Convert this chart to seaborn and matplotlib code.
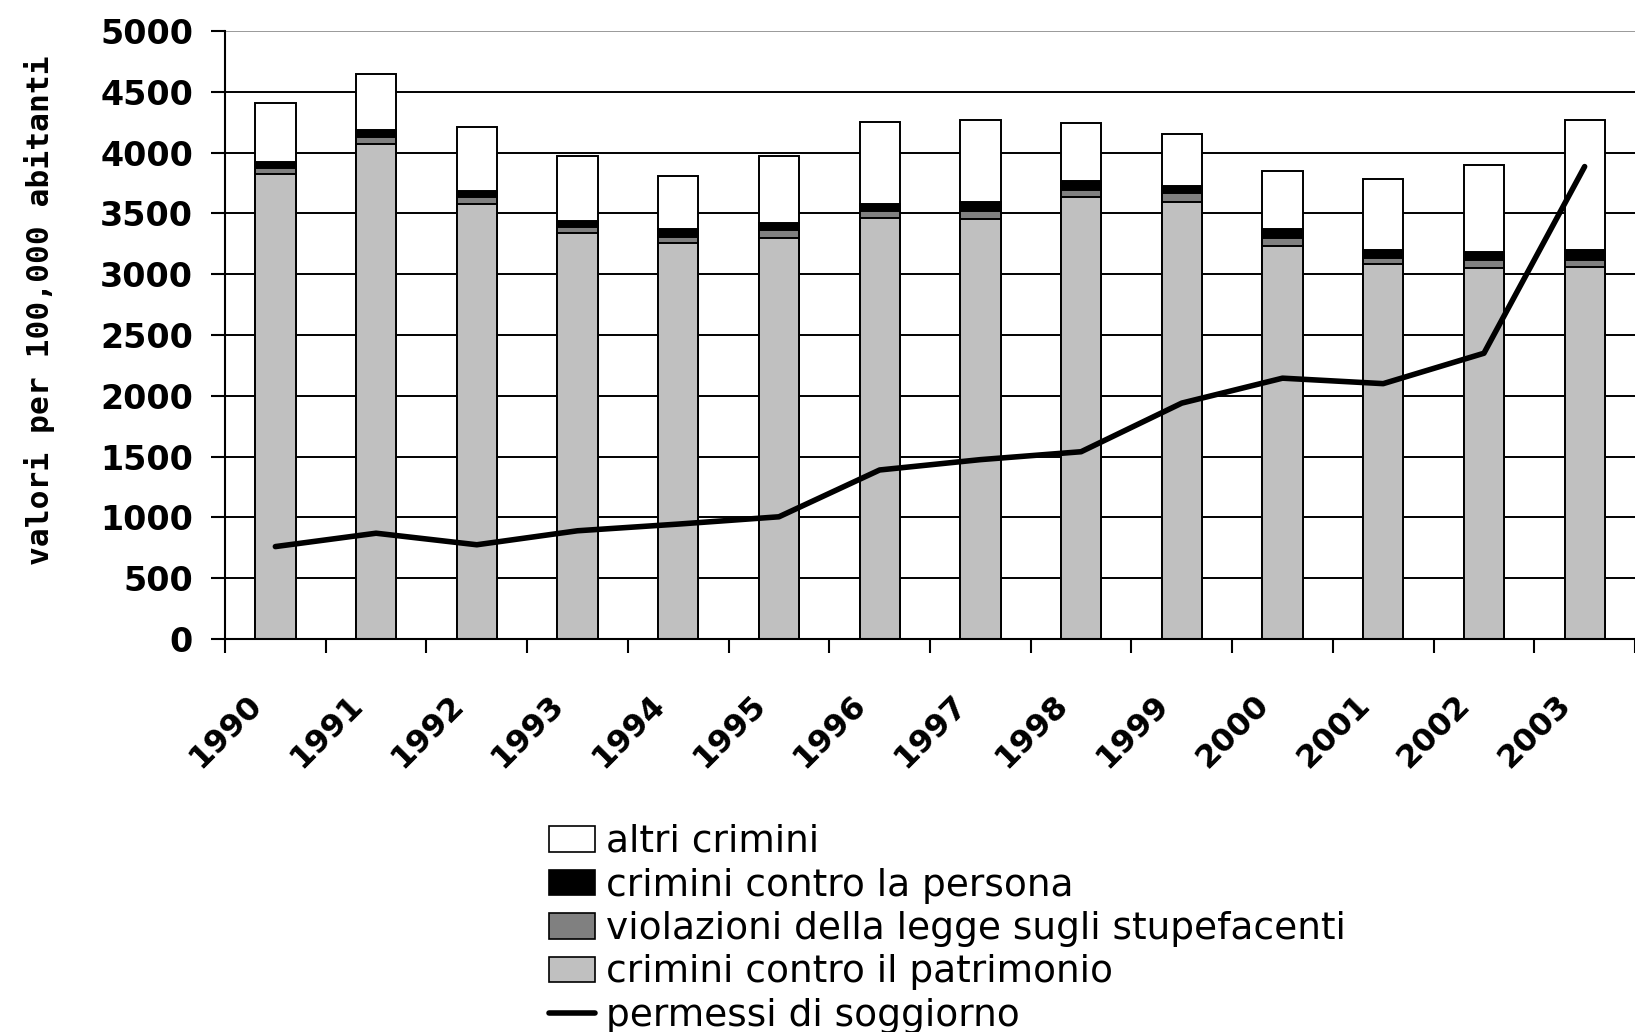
import numpy as np
import pandas as pd
import matplotlib
matplotlib.use("Agg")
import matplotlib.pyplot as plt
import matplotlib.transforms as mtransforms
from matplotlib.patches import Patch
from matplotlib.lines import Line2D
import seaborn as sns

# ---------------- data (values per 100,000 inhabitants) ----------------
years = [1990, 1991, 1992, 1993, 1994, 1995, 1996, 1997, 1998, 1999, 2000, 2001, 2002, 2003]
patrimonio = [3820, 4070, 3580, 3340, 3255, 3300, 3460, 3455, 3635, 3590, 3235, 3080, 3055, 3060]
stupefacenti = [50, 55, 55, 50, 55, 60, 60, 65, 60, 75, 65, 55, 65, 60]
persona = [50, 60, 50, 50, 60, 60, 55, 75, 75, 60, 70, 60, 60, 80]
altri = [490, 460, 525, 530, 440, 555, 675, 670, 475, 430, 480, 590, 720, 1070]
permessi = [760, 870, 775, 890, 945, 1005, 1390, 1475, 1540, 1940, 2145, 2100, 2350, 3885]
yticks = [0, 500, 1000, 1500, 2000, 2500, 3000, 3500, 4000, 4500, 5000]
legend_labels = ["altri crimini", "crimini contro la persona",
                 "violazioni della legge sugli stupefacenti",
                 "crimini contro il patrimonio", "permessi di soggiorno"]
ylabel = "valori per 100,000 abitanti"

sns.set_theme(style="white")
plt.rcParams['font.family'] = ['DejaVu Sans']
plt.rcParams['text.color'] = 'black'
plt.rcParams['xtick.color'] = 'black'
plt.rcParams['ytick.color'] = 'black'
plt.rcParams['axes.labelcolor'] = 'black'

df = pd.DataFrame({
    "anno": [str(y) for y in years],
    "patrimonio": patrimonio,
    "stupefacenti": stupefacenti,
    "persona": persona,
    "altri": altri,
})
df["lvl1"] = df["patrimonio"]
df["lvl2"] = df["lvl1"] + df["stupefacenti"]
df["lvl3"] = df["lvl2"] + df["persona"]
df["lvl4"] = df["lvl3"] + df["altri"]
order = [str(y) for y in years]

W, H = 1635, 1032
fig = plt.figure(figsize=(W / 100, H / 100), dpi=100)
ax = fig.add_axes([225 / W, 1 - 639 / H, (W - 225) / W, 608 / H])

colors = {"lvl4": "white", "lvl3": "black", "lvl2": "#808080", "lvl1": "#c0c0c0"}
for col in ["lvl4", "lvl3", "lvl2", "lvl1"]:
    sns.barplot(data=df, x="anno", y=col, order=order, color=colors[col],
                saturation=1, edgecolor="black", linewidth=1.4, width=0.4,
                errorbar=None, ax=ax, zorder=2)

pos = np.arange(len(years))
sns.lineplot(x=pos, y=permessi, color="black", linewidth=4, ax=ax, zorder=5)

px_per_cat = 101.3
ax.set_xlim(-0.5, -0.5 + (W - 225) / px_per_cat)
ax.set_ylim(0, 5000)
ax.set_xlabel("")
ax.set_ylabel("")

# y axis
ax.set_yticks(yticks)
ax.set_yticklabels([str(v) for v in yticks], fontsize=24, fontweight="bold",
                   color="black")
ax.tick_params(axis="y", which="major", length=10, width=1.5, direction="out",
               pad=13, color="black", left=True)
ax.yaxis.grid(True, color="black", linewidth=1.4)
ax.set_axisbelow(True)
gls = ax.yaxis.get_gridlines()
gls[-1].set_color("#9a9a9a")

# x axis
ax.set_xticks(pos)
ax.set_xticklabels(order, fontsize=23, fontweight="bold", rotation=45,
                   ha="right", va="top", rotation_mode="anchor", color="black")
ax.set_xticks(np.arange(-0.5, len(years), 1.0), minor=True)
ax.tick_params(axis="x", which="major", length=0, pad=36)
ax.tick_params(axis="x", which="minor", length=10, width=1.5, direction="out",
               color="black", bottom=True)
offset = mtransforms.ScaledTranslation(-29 / 100, 0, fig.dpi_scale_trans)
for lab in ax.get_xticklabels():
    lab.set_transform(lab.get_transform() + offset)

for s in ["top", "right"]:
    ax.spines[s].set_visible(False)
for s in ["left", "bottom"]:
    ax.spines[s].set_color("black")
    ax.spines[s].set_linewidth(1.5)

fig.text(40 / W, 1 - 310 / H, ylabel, rotation=90, ha="center", va="center",
         family="DejaVu Sans Mono", fontsize=22.5, fontweight="bold",
         color="black")

handles = [Patch(facecolor="white", edgecolor="black", linewidth=1.2),
           Patch(facecolor="black", edgecolor="black", linewidth=1.2),
           Patch(facecolor="#808080", edgecolor="black", linewidth=1.2),
           Patch(facecolor="#c0c0c0", edgecolor="black", linewidth=1.2),
           Line2D([0], [0], color="black", linewidth=4)]
fs = 27
leg = fig.legend(handles, legend_labels, loc="upper left",
                 bbox_to_anchor=(549 / W, 1 - 824 / H), frameon=False,
                 prop=dict(family="DejaVu Sans", size=fs),
                 handlelength=1.23, handleheight=0.67, handletextpad=0.28,
                 labelspacing=0.2, borderpad=0, borderaxespad=0)
for t in leg.get_texts():
    t.set_color("black")

fig.savefig("out.png", dpi=100)
